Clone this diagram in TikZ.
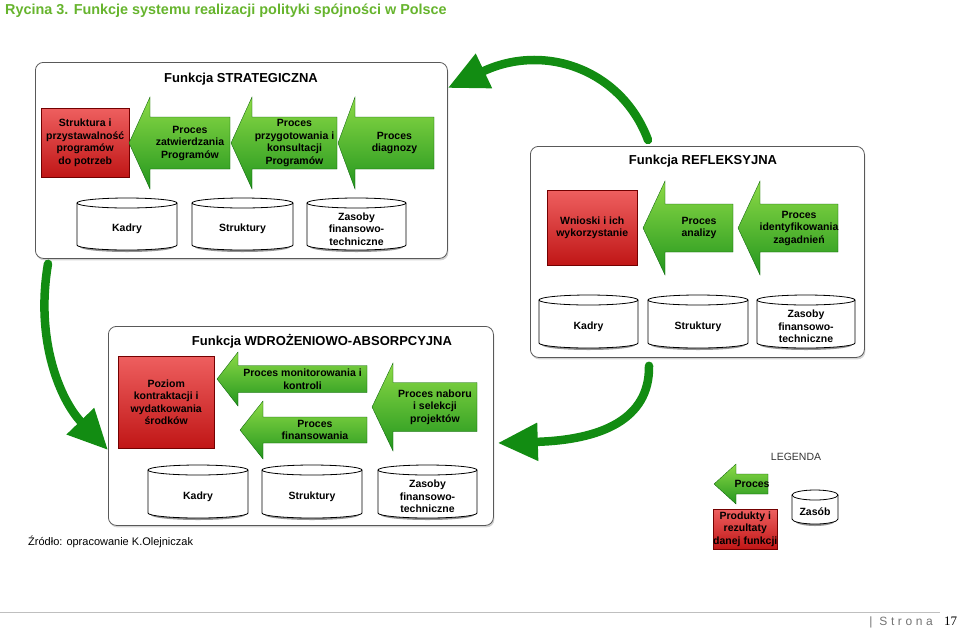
\documentclass[tikz,border=0pt]{standalone}
\usepackage{fontspec}
\setmainfont{Liberation Sans}
\newfontfamily\serifnum{Liberation Serif}
\newfontfamily\spacedfont[LetterSpace=30]{Liberation Sans}
\usetikzlibrary{arrows.meta,shadows}
\definecolor{titlegreen}{RGB}{102,180,45}
\definecolor{darkgreen}{RGB}{18,140,18}
\definecolor{glight}{RGB}{140,218,70}
\definecolor{gdark}{RGB}{35,150,30}
\definecolor{rlight}{RGB}{238,95,95}
\definecolor{rdark}{RGB}{192,22,22}
\tikzset{
  lbl/.style={font=\fontsize{10.5}{12.5}\selectfont\bfseries, align=center, inner sep=0pt},
  bigbox/.style={draw=black!65, line width=0.8pt, rounded corners=8pt, fill=white, anchor=north west, inner sep=0pt,
    drop shadow={shadow xshift=1pt, shadow yshift=-2pt, opacity=0.35}},
  boxtitle/.style={font=\fontsize{13}{15}\selectfont\bfseries, inner sep=0pt},
  redbox/.style={lbl, draw=red!45!black, line width=0.4pt, top color=rlight, bottom color=rdark, anchor=north west},
  greenarrow/.style={top color=glight, bottom color=gdark, draw=green!35!black, line width=0.3pt},
  cylbody/.style={fill=white, draw=black, line width=0.8pt},
  bigarrow/.style={draw=darkgreen, line width=8.5pt, line cap=round, -{Triangle[length=40pt,width=36pt]}},
}
% name, tipx, cy, headx, halfhead, right, halfbody, text
\newcommand\garrow[8]{%
  \path[greenarrow] (#2,#3) -- (#4,#3-#5) -- (#4,#3-#7) -- (#6,#3-#7) -- (#6,#3+#7) -- (#4,#3+#7) -- (#4,#3+#5) -- cycle;
  \node[lbl] (#1) at ({(#4+#6)/2},#3) {#8};
}
% name, x1, y1, x2, y2, text
\newcommand\cyl[6]{%
  \pgfmathsetmacro\cxm{(#2+#4)/2}%
  \pgfmathsetmacro\crx{(#4-#2)/2}%
  \fill[black!60, opacity=0.7] (\cxm,#5-3) ellipse [x radius=\crx pt-3pt, y radius=5pt];
  \path[cylbody] (#2,#3+5) -- (#2,#5-5) arc[start angle=180, end angle=360, x radius=\crx pt, y radius=5pt]
     -- (#4,#3+5) arc[start angle=0, end angle=180, x radius=\crx pt, y radius=5pt] -- cycle;
  \draw[line width=0.8pt] (#2,#3+5) arc[start angle=180, end angle=360, x radius=\crx pt, y radius=5pt];
  \node[lbl] (#1) at (\cxm,{(#3+10+#5)/2}) {#6};
}
\begin{document}
\begin{tikzpicture}[x=1pt,y=-1pt]
\useasboundingbox (0,0) rectangle (960,633);

% title
\node[anchor=west, inner sep=0pt, text=titlegreen, font=\fontsize{14.4}{16}\selectfont\bfseries] (title) at (5,11)
  {Rycina 3. Funkcje systemu realizacji polityki spójności w Polsce};

% big boxes
\node[bigbox, minimum width=412pt, minimum height=196pt] (strat) at (35,62) {};
\node[bigbox, minimum width=334pt, minimum height=211pt] (refl) at (530,146) {};
\node[bigbox, minimum width=385pt, minimum height=199pt] (wdr) at (108,326) {};

\node[boxtitle] (tstrat) at (241,79) {Funkcja STRATEGICZNA};
\node[boxtitle] (trefl) at (703,161) {Funkcja REFLEKSYJNA};
\node[boxtitle] (twdr) at (322,341) {Funkcja WDROŻENIOWO-ABSORPCYJNA};

% --- strategiczna
\node[redbox, minimum width=88pt, minimum height=69pt] (sred) at (41,108)
  {Struktura i\\przystawalność\\programów\\do potrzeb};
\garrow{sa1}{129}{143}{150}{46}{230}{26}{Proces\\zatwierdzania\\Programów}
\garrow{sa2}{231}{143}{252}{46}{337}{26}{Proces\\przygotowania i\\konsultacji\\Programów}
\garrow{sa3}{338}{143}{355}{46}{434}{26}{Proces\\diagnozy}
\cyl{sc1}{77}{198}{177}{250}{Kadry}
\cyl{sc2}{192}{198}{293}{250}{Struktury}
\cyl{sc3}{307}{198}{406}{250}{Zasoby\\finansowo-\\techniczne}

% --- refleksyjna
\node[redbox, minimum width=90pt, minimum height=75pt] (rred) at (547,190)
  {Wnioski i ich\\wykorzystanie};
\garrow{ra1}{643}{228}{665}{47}{733}{24}{Proces\\analizy}
\garrow{ra2}{738}{228}{760}{47}{838}{24}{Proces\\identyfikowania\\zagadnień}
\cyl{rc1}{539}{295}{638}{348}{Kadry}
\cyl{rc2}{648}{295}{748}{348}{Struktury}
\cyl{rc3}{757}{295}{855}{348}{Zasoby\\finansowo-\\techniczne}

% --- wdrozeniowo-absorpcyjna
\node[redbox, minimum width=96pt, minimum height=92pt] (wred) at (118,356)
  {Poziom\\kontraktacji i\\wydatkowania\\środków};
\garrow{wa1}{217}{379}{238}{27}{367}{13.5}{Proces monitorowania i\\kontroli}
\garrow{wa2}{240}{430}{263}{29}{367}{13}{Proces\\finansowania}
\garrow{wa3}{372}{407}{393}{44}{477}{24.5}{Proces naboru\\i selekcji\\projektów}
\cyl{wc1}{148}{465}{248}{518}{Kadry}
\cyl{wc2}{262}{465}{362}{518}{Struktury}
\cyl{wc3}{378}{465}{477}{518}{Zasoby\\finansowo-\\techniczne}

% --- big curved arrows
\coordinate (c1s) at ([xshift=118pt,yshift=6pt]refl.north west);
\draw[bigarrow] (c1s) .. controls (622,70) and (545,42) .. ([yshift=-26pt]strat.north east);
\coordinate (c2s) at ([xshift=13pt,yshift=-5pt]strat.south west);
\draw[bigarrow] (c2s) .. controls (35,340) and (60,400) .. ([yshift=-124pt]wdr.north west);
\coordinate (c3s) at ([xshift=119pt,yshift=-8pt]refl.south west);
\draw[bigarrow] (c3s) .. controls (650,420) and (600,440) .. ([xshift=4pt,yshift=-117pt]wdr.north east);

% --- legend
\node[inner sep=0pt, text=black!80, font=\fontsize{10.5}{12}\selectfont] (leg) at (796,457) {LEGENDA};
\garrow{lga}{714}{484}{736}{20}{768}{10}{Proces}
\node[redbox, minimum width=64pt, minimum height=40pt] (lgr) at (713,509)
  {Produkty i\\rezultaty\\danej funkcji};
\cyl{lgc}{792}{490}{838}{524}{Zasób}

% --- source and footer
\node[anchor=west, inner sep=0pt, font=\fontsize{11}{12}\selectfont] (src) at (28,542)
  {Źródło: opracowanie K.Olejniczak};
\draw[black!25, line width=0.6pt] (0,612) -- (940,612);
\node[anchor=east, inner sep=0pt, text=black!55, font=\fontsize{12}{13}\selectfont\spacedfont] (strona) at (933,622) {| Strona};
\node[anchor=west, inner sep=0pt, font=\fontsize{13}{14}\selectfont\serifnum] (pnum) at (944,621) {17};
\end{tikzpicture}
\end{document}
